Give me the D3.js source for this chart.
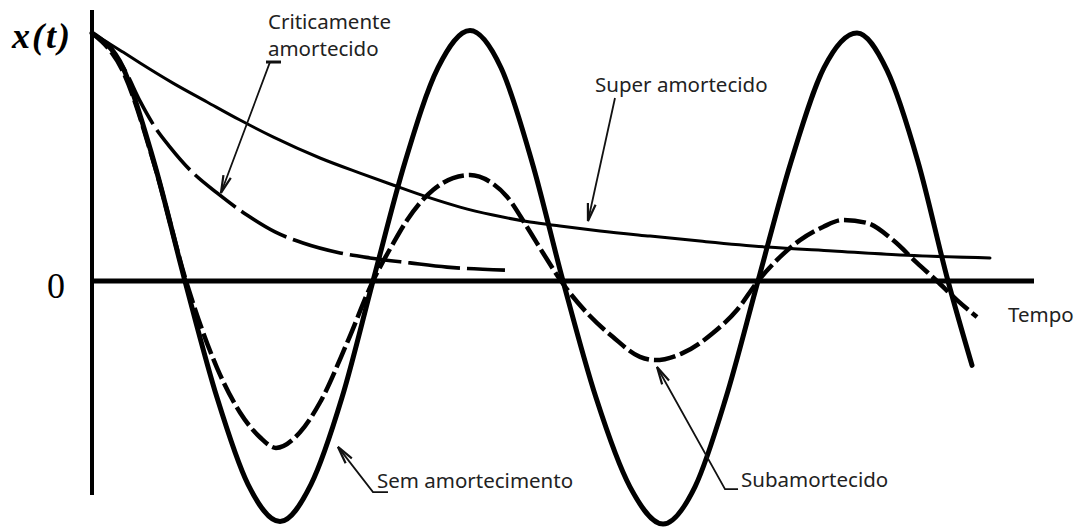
<!DOCTYPE html>
<html>
<head>
<meta charset="utf-8">
<script src="https://cdn.jsdelivr.net/npm/d3@7"></script>
<style>
  html, body { margin: 0; padding: 0; background: #fff; }
  svg { display: block; }
</style>
</head>
<body>
<svg id="chart" width="1078" height="527"></svg>
<script>
// ---- Displacement x(t) for the four damping regimes (time in arbitrary units) ----

// Sem amortecimento (undamped)
const undampedT = [0, 0.329, 0.658, 0.987, 1.327, 1.656, 1.996, 2.325, 2.654, 2.983,
  3.323, 3.673, 4.013, 4.342, 4.671, 5.000, 5.350, 5.711, 6.062, 6.401, 6.730, 7.070,
  7.420, 7.771, 8.121, 8.439, 8.769, 9.087, 9.342];
const undampedX = [1.0, 0.86, 0.48, 0, -0.47, -0.82, -0.97, -0.82, -0.47, 0,
  0.48, 0.86, 1.01, 0.86, 0.48, 0, -0.47, -0.83, -0.98, -0.83, -0.47, 0,
  0.48, 0.86, 1.0, 0.85, 0.48, 0, -0.34];

// Subamortecido (underdamped)
const underdampedT = [0, 0.329, 0.669, 0.998, 1.327, 1.571, 1.783, 1.953, 2.208, 2.420,
  2.707, 2.983, 3.195, 3.344, 3.482, 3.620, 3.832, 4.013, 4.225, 4.406, 4.618, 4.788,
  4.979, 5.255, 5.531, 5.817, 5.977, 6.274, 6.592, 6.847, 7.070, 7.272, 7.516, 7.760,
  7.972, 8.227, 8.503, 8.758, 8.970, 9.183, 9.395];
const underdampedX = [1.0, 0.845, 0.46, 0, -0.35, -0.53, -0.63, -0.673, -0.61, -0.49,
  -0.25, 0, 0.15, 0.245, 0.315, 0.367, 0.415, 0.427, 0.40, 0.34, 0.218, 0.113,
  0, -0.129, -0.226, -0.306, -0.319, -0.29, -0.21, -0.117, 0, 0.085, 0.165, 0.218,
  0.246, 0.234, 0.165, 0.073, 0, -0.077, -0.145];

// Criticamente amortecido (critically damped)
const criticalT = [0, 0.212, 0.350, 0.510, 0.669, 0.828, 1.040, 1.327, 1.645, 1.943,
  2.240, 2.633, 2.951, 3.376, 3.769, 4.384];
const criticalX = [1.0, 0.93, 0.85, 0.725, 0.62, 0.54, 0.448, 0.355, 0.266, 0.198,
  0.153, 0.113, 0.093, 0.073, 0.056, 0.044];

// Super amortecido (overdamped)
const overdampedT = [0, 0.191, 0.329, 0.510, 0.860, 1.221, 1.571, 1.921, 2.420, 2.845,
  3.195, 3.556, 3.907, 4.257, 4.650, 4.968, 5.393, 5.924, 6.454, 7.166, 7.866, 8.577, 9.533];
const overdampedX = [1.0, 0.956, 0.923, 0.879, 0.798, 0.722, 0.649, 0.581, 0.496, 0.435,
  0.387, 0.339, 0.298, 0.266, 0.238, 0.222, 0.202, 0.181, 0.161, 0.137, 0.121, 0.105, 0.093];

// Axis extents and tick labels
const timeAxisEnd = 10;
const dispAxisRange = [-0.863, 1.093];
const yTickValues = [0];
const yTickLabels = ["0"];
const yAxisTitle = "x(t)";
const xAxisTitle = "Tempo";

// ---- Scales ----
const svg = d3.select("#chart");
const x = d3.scaleLinear().domain([0, 10]).range([92, 1034]);
const y = d3.scaleLinear().domain([-1, 1]).range([529, 33]);

const zip = (ts, xs) => ts.map((t, i) => [t, xs[i]]);
const line = d3.line()
  .x(d => x(d[0]))
  .y(d => y(d[1]))
  .curve(d3.curveMonotoneX);

// ---- Axes ----
const axes = svg.append("g");
axes.append("line")
  .attr("x1", x(0)).attr("x2", x(0))
  .attr("y1", y(dispAxisRange[1])).attr("y2", y(dispAxisRange[0]))
  .attr("stroke", "#000").attr("stroke-width", 4);
axes.append("line")
  .attr("x1", x(0) - 2).attr("x2", x(timeAxisEnd))
  .attr("y1", y(0)).attr("y2", y(0))
  .attr("stroke", "#000").attr("stroke-width", 5);

const yAxis = d3.axisLeft(y)
  .tickValues(yTickValues)
  .tickFormat((d, i) => yTickLabels[i])
  .tickSize(0)
  .tickPadding(27);
const yAxisG = svg.append("g")
  .attr("transform", `translate(${x(0)},0)`)
  .call(yAxis);
yAxisG.select(".domain").remove();
yAxisG.selectAll("text")
  .attr("dy", "0.46em")
  .style("font-family", "'Liberation Serif', 'DejaVu Serif', serif")
  .style("font-size", "36px")
  .attr("fill", "#000");

svg.append("text")
  .attr("x", x(-0.849)).attr("y", y(0.94))
  .style("font-family", "'Liberation Serif', serif")
  .style("font-weight", "bold")
  .style("font-style", "italic")
  .style("font-size", "36px")
  .style("letter-spacing", "2px")
  .attr("fill", "#000")
  .text(yAxisTitle);

// ---- Curves ----
const curves = svg.append("g").attr("fill", "none").attr("stroke", "#000");

curves.append("path")
  .attr("d", line(zip(overdampedT, overdampedX)))
  .attr("stroke-width", 3)
  .attr("stroke-linecap", "round");

curves.append("path")
  .attr("d", line(zip(criticalT, criticalX)))
  .attr("stroke-width", 3.6)
  .attr("stroke-dasharray", "52,7");

curves.append("path")
  .attr("d", line(zip(underdampedT, underdampedX)))
  .attr("stroke-width", 4.5)
  .attr("stroke-dasharray", "22,5");

curves.append("path")
  .attr("d", line(zip(undampedT, undampedX)))
  .attr("stroke-width", 5)
  .attr("stroke-linecap", "round")
  .attr("stroke-linejoin", "round");

// ---- Annotations (positions in data units) ----
const labelFont = "'Noto Sans', 'DejaVu Sans', sans-serif";
const labels = [
  { text: "Criticamente", t: 1.868, v: 1.018 },
  { text: "amortecido", t: 1.868, v: 0.907 },
  { text: "Super amortecido", t: 5.340, v: 0.762 },
  { text: "Sem amortecimento", t: 3.025, v: -0.835 },
  { text: "Subamortecido", t: 6.890, v: -0.831 },
  { text: xAxisTitle, t: 9.724, v: -0.165 }
];
svg.append("g").selectAll("text").data(labels).join("text")
  .attr("x", d => x(d.t)).attr("y", d => y(d.v))
  .style("font-family", labelFont)
  .style("font-size", "20.5px")
  .attr("fill", "#222")
  .text(d => d.text);

// leader lines: first point is the arrow tip
const leaders = [
  [[1.369, 0.355], [1.890, 0.883], [2.006, 0.883]],
  [[5.265, 0.242], [5.552, 0.738]],
  [[2.611, -0.669], [2.983, -0.851], [3.142, -0.851]],
  [[5.998, -0.347], [6.720, -0.839], [6.858, -0.839]]
];
const straight = d3.line().x(d => x(d[0])).y(d => y(d[1]));
const ann = svg.append("g").attr("fill", "none").attr("stroke", "#111")
  .attr("stroke-width", 1.8);
leaders.forEach(pts => {
  ann.append("path").attr("d", straight(pts));
  const [tx, ty] = [x(pts[0][0]), y(pts[0][1])];
  const [sx, sy] = [x(pts[1][0]), y(pts[1][1])];
  const ang = Math.atan2(sy - ty, sx - tx);
  const len = 18, spread = 0.22;
  const b1 = [tx + len * Math.cos(ang + spread), ty + len * Math.sin(ang + spread)];
  const b2 = [tx + len * Math.cos(ang - spread), ty + len * Math.sin(ang - spread)];
  ann.append("path")
    .attr("d", `M${b1[0]},${b1[1]}L${tx},${ty}L${b2[0]},${b2[1]}`)
    .attr("stroke-width", 2.2);
});
// short tick at the top of the critically damped leader
ann.append("line")
  .attr("x1", x(1.847)).attr("x2", x(2.006))
  .attr("y1", y(0.883)).attr("y2", y(0.883))
  .attr("stroke-width", 3);
</script>
</body>
</html>
